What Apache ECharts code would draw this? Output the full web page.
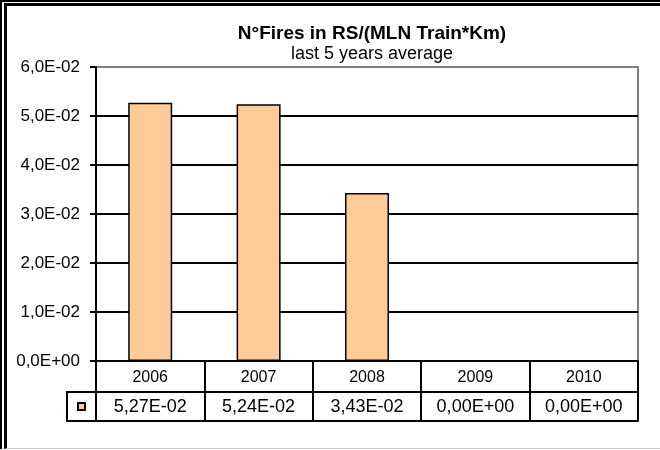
<!DOCTYPE html>
<html>
<head>
<meta charset="utf-8">
<script src="https://cdn.jsdelivr.net/npm/echarts@6/dist/echarts.min.js"></script>
<style>
  html, body { margin: 0; padding: 0; background: #fff; }
  #wrap { position: relative; width: 660px; height: 450px; }
  #chart { position: absolute; left: 0; top: 0; width: 660px; height: 450px; }
  .frame1 { position: absolute; left: 0; top: 0; width: 660px; height: 449px; border-top: 2px solid #000; border-left: 2px solid #000; box-sizing: border-box; pointer-events: none; }
  .frame2 { position: absolute; left: 4px; top: 3px; width: 656px; height: 446px; border-top: 3px solid #000; border-left: 3px solid #000; border-bottom: 1px solid #ccc; box-sizing: border-box; pointer-events: none; }
</style>
</head>
<body>
<div id="wrap">
  <div id="chart"></div>
  <div class="frame1"></div>
  <div class="frame2"></div>
</div>
<script>
const years = ['2006', '2007', '2008', '2009', '2010'];
const fires = [0.0527, 0.0524, 0.0343, 0, 0];
const seriesName = 'N°Fires in RS/(MLN Train*Km)';

function sci(v, d) {
    const s = Number(v).toExponential(d);
    const [m, e] = s.split('e');
    const sign = e[0] === '-' ? '-' : '+';
    const ex = e.replace(/[+-]/, '').padStart(2, '0');
    return m.replace('.', ',') + 'E' + sign + ex;
}

const font = 'Liberation Sans, Arial, sans-serif';
const myChart = echarts.init(document.getElementById('chart'));

myChart.setOption({
    animation: false,
    textStyle: { fontFamily: font },
    title: {
        text: 'N°Fires in RS/(MLN Train*Km)',
        subtext: 'last 5 years average',
        left: 367, top: 19, textAlign: 'center', itemGap: 2,
        textStyle: { fontSize: 19, fontWeight: 'bold', color: '#000', fontFamily: font },
        subtextStyle: { fontSize: 18, color: '#000', fontFamily: font }
    },
    legend: {
        left: 67, top: 392, width: 29, height: 29,
        padding: [10, 10, 10, 10],
        itemWidth: 7, itemHeight: 7,
        borderColor: '#000', borderWidth: 2,
        formatter: () => '',
        data: [{ name: seriesName, icon: 'rect' }]
    },
    grid: {
        left: 96, right: 22, top: 67, bottom: 89,
        show: true, borderColor: '#808080', borderWidth: 2, backgroundColor: '#fff'
    },
    yAxis: {
        type: 'value', min: 0, max: 0.06, interval: 0.01,
        axisLine: { show: true, lineStyle: { color: '#000', width: 2 } },
        axisTick: { show: true, length: 6, lineStyle: { color: '#000', width: 2 } },
        axisLabel: { margin: 16, fontSize: 17, color: '#000', formatter: v => sci(v, 1) },
        splitLine: { show: true, lineStyle: { color: ['#000', '#000', '#000', '#000', '#000', '#000', '#808080'], width: 2 } }
    },
    xAxis: [
        {
            type: 'category', data: years, position: 'bottom',
            axisLine: { show: true, lineStyle: { color: '#000', width: 2 } },
            axisTick: { show: true, length: 60, lineStyle: { color: '#000', width: 2 } },
            axisLabel: { margin: 9, fontSize: 16, color: '#000' }
        },
        {
            type: 'category', data: years, position: 'bottom', offset: 31,
            axisLine: { show: true, lineStyle: { color: '#000', width: 2 } },
            axisTick: { show: false },
            axisLabel: { margin: 6, fontSize: 18, color: '#000', formatter: (v, i) => sci(fires[i], 2) }
        },
        {
            type: 'category', data: years, position: 'bottom', offset: 60,
            axisLine: { show: true, lineStyle: { color: '#000', width: 2 } },
            axisTick: { show: false },
            axisLabel: { show: false }
        }
    ],
    series: [{
        name: seriesName,
        type: 'bar',
        data: fires,
        barWidth: 44,
        itemStyle: { color: '#FFCC99', borderColor: '#000', borderWidth: 1.5 }
    }]
});

window.addEventListener('resize', () => myChart.resize());
</script>
</body>
</html>
